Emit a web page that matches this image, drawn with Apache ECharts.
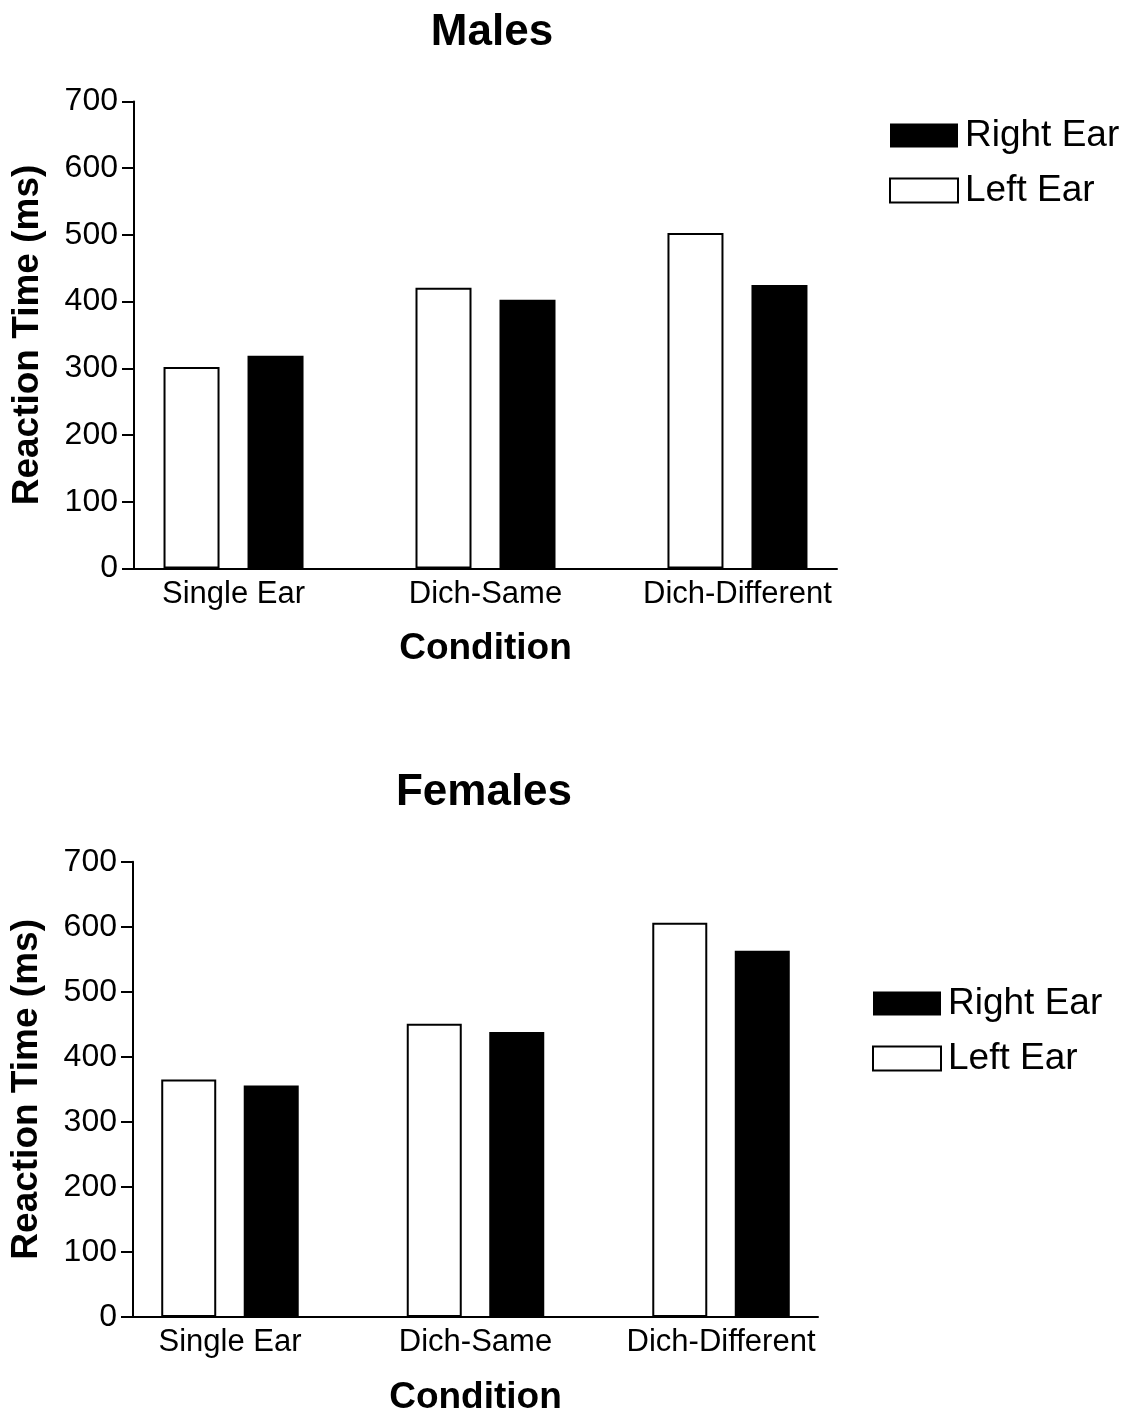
<!DOCTYPE html>
<html>
<head>
<meta charset="utf-8">
<script src="https://cdn.jsdelivr.net/npm/echarts@6/dist/echarts.min.js"></script>
<style>
  html, body { margin: 0; padding: 0; background: #fff; }
  #chart { width: 1135px; height: 1417px; }
</style>
</head>
<body>
<div id="chart"></div>
<script>
// data
const categories = ['Single Ear', 'Dich-Same', 'Dich-Different'];
const yTicks = [0, 100, 200, 300, 400, 500, 600, 700];
const maleLeft = [302, 421, 503];
const maleRight = [319, 403, 425];
const femaleLeft = [365, 451, 606];
const femaleRight = [356, 438, 563];

const font = "'Liberation Sans', Arial, sans-serif";
const chart = echarts.init(document.getElementById('chart'));

// categories sit at 0,1,2 on a value axis so the outer padding matches the figure
const toPoints = arr => arr.map((v, i) => [i, v]);

function xAxisOf(gridIndex) {
  return {
    type: 'value',
    gridIndex: gridIndex,
    min: -0.395,
    max: 2.395,
    name: 'Condition',
    nameLocation: 'middle',
    nameGap: 62,
    nameTextStyle: { fontFamily: font, fontSize: 37, fontWeight: 'bold', color: '#000' },
    axisLine: { onZero: false, lineStyle: { color: '#000', width: 2 } },
    axisTick: { show: false },
    splitLine: { show: false },
    axisLabel: {
      customValues: [0, 1, 2],
      formatter: v => categories[Math.round(v)] || '',
      margin: 10,
      fontFamily: font,
      fontSize: 31,
      color: '#000'
    }
  };
}

function yAxisOf(gridIndex) {
  return {
    type: 'value',
    gridIndex: gridIndex,
    min: yTicks[0],
    max: yTicks[yTicks.length - 1],
    interval: 100,
    name: 'Reaction Time (ms)',
    nameLocation: 'middle',
    nameGap: 88,
    nameTextStyle: { fontFamily: font, fontSize: 37, fontWeight: 'bold', color: '#000' },
    axisLine: { show: true, onZero: false, lineStyle: { color: '#000', width: 2 } },
    axisTick: { show: true, length: 12, lineStyle: { color: '#000', width: 2 } },
    splitLine: { show: false },
    axisLabel: { margin: 16, fontFamily: font, fontSize: 32, color: '#000' }
  };
}

function barSeries(name, data, idx, width, filled) {
  return {
    name: name,
    type: 'bar',
    xAxisIndex: idx,
    yAxisIndex: idx,
    barWidth: width,
    barGap: '50%',
    data: toPoints(data),
    itemStyle: filled
      ? { color: '#000', borderColor: '#000', borderWidth: 0 }
      : { color: '#fff', borderColor: '#000', borderWidth: 2 }
  };
}

function legendOf(top, left) {
  return {
    top: top,
    left: left,
    orient: 'vertical',
    icon: 'rect',
    itemWidth: 68,
    itemHeight: 24,
    itemGap: 18,
    data: ['Right Ear', 'Left Ear'],
    selectedMode: false,
    textStyle: { fontFamily: font, fontSize: 37, color: '#000', padding: [0, 0, 0, 2] }
  };
}

chart.setOption({
  animation: false,
  backgroundColor: '#fff',
  title: [
    { text: 'Males', left: 487, top: 6, textAlign: 'center',
      textStyle: { fontFamily: font, fontSize: 44, fontWeight: 'bold', color: '#000' } },
    { text: 'Females', left: 479, top: 766, textAlign: 'center',
      textStyle: { fontFamily: font, fontSize: 44, fontWeight: 'bold', color: '#000' } }
  ],
  legend: [legendOf(112, 884), legendOf(980, 867)],
  grid: [
    { left: 134, top: 101.5, width: 703, height: 467 },
    { left: 133, top: 861.7, width: 685, height: 461.3 }
  ],
  xAxis: [xAxisOf(0), xAxisOf(1)],
  yAxis: [yAxisOf(0), yAxisOf(1)],
  series: [
    barSeries('Left Ear', maleLeft, 0, 56, false),
    barSeries('Right Ear', maleRight, 0, 56, true),
    barSeries('Left Ear', femaleLeft, 1, 55, false),
    barSeries('Right Ear', femaleRight, 1, 55, true)
  ]
});
</script>
</body>
</html>
